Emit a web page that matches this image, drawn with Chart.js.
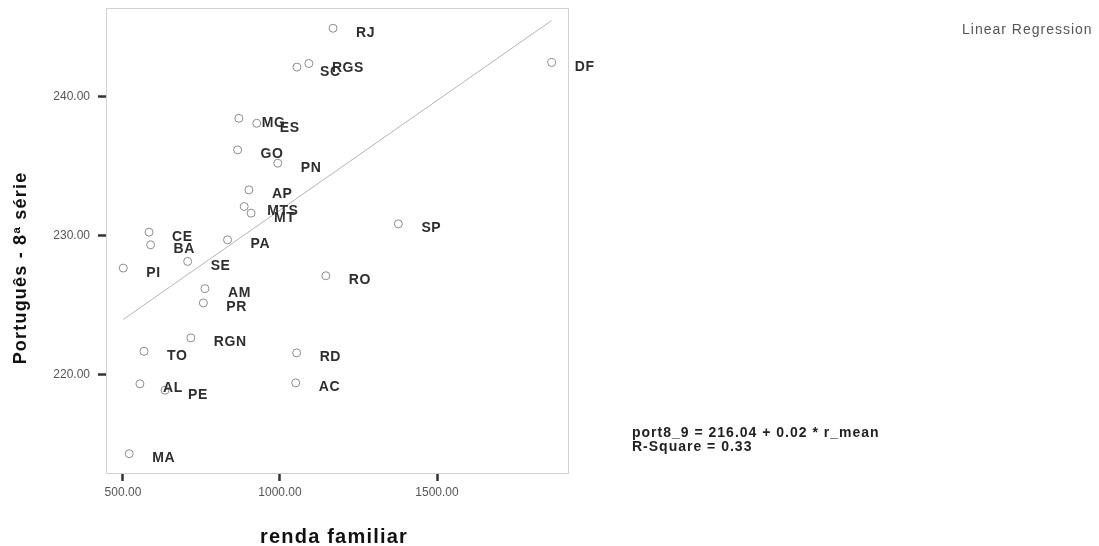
<!DOCTYPE html>
<html>
<head>
<meta charset="utf-8">
<script src="https://cdn.jsdelivr.net/npm/chart.js@4/dist/chart.umd.min.js"></script>
<style>
  html, body { margin: 0; padding: 0; background: #fff; }
  #chart { display: block; }
</style>
</head>
<body>
<canvas id="chart" width="1099" height="546" style="width:1099px;height:546px"></canvas>
<script>
// states (UF) with mean family income and 8th grade Portuguese score
const states = ['RJ', 'SC', 'RGS', 'DF', 'MG', 'ES', 'GO', 'PN', 'AP', 'MTS', 'MT', 'CE', 'BA', 'PA',
    'SE', 'PI', 'RO', 'AM', 'PR', 'RGN', 'TO', 'RD', 'AL', 'PE', 'AC', 'SP', 'MA'];
const renda = [1169, 1054, 1092, 1865, 869, 926, 865, 993, 901, 886, 908, 583, 588, 833,
    706, 501, 1146, 761, 756, 716, 567, 1053, 554, 634, 1050, 1377, 520];
const portugues = [244.94, 242.14, 242.40, 242.47, 238.45, 238.09, 236.17, 235.21, 233.29, 232.09, 231.61, 230.24, 229.33, 229.69,
    228.13, 227.65, 227.10, 226.17, 225.14, 222.62, 221.65, 221.54, 219.31, 218.85, 219.38, 230.84, 214.27];

// fitted line (ends at min / max income)
const fitX = [501, 1865];
const fitY = [223.95, 245.5];

const xTicks = [500, 1000, 1500];
const yTicks = [220, 230, 240];

const equationLines = ['port8_9 = 216.04 + 0.02 * r_mean', 'R-Square = 0.33'];

// --- helpers ---
function drawText(ctx, text, x, y, font, color, spacing, align) {
    ctx.save();
    ctx.font = font;
    ctx.fillStyle = color;
    ctx.textAlign = align || 'left';
    ctx.textBaseline = 'alphabetic';
    ctx.letterSpacing = spacing + 'px';
    ctx.fillText(text, x, y);
    ctx.restore();
}

const boxPlugin = {
    id: 'boxPlugin',
    beforeDatasetsDraw(chart) {
        const a = chart.chartArea;
        const ctx = chart.ctx;
        ctx.save();
        ctx.strokeStyle = '#d2d2d2';
        ctx.lineWidth = 1;
        ctx.strokeRect(a.left + 0.5, a.top + 0.5, a.right - a.left, a.bottom - a.top);
        ctx.restore();
    }
};

const labelPlugin = {
    id: 'labelPlugin',
    afterDatasetsDraw(chart) {
        const ctx = chart.ctx;
        const meta = chart.getDatasetMeta(0);
        meta.data.forEach(function(pt, i) {
            drawText(ctx, states[i], pt.x + 23, pt.y + 8.5, 'bold 14px Arial, "Liberation Sans", sans-serif', '#2e2e2e', 0.6);
        });
    }
};

const annotationPlugin = {
    id: 'annotationPlugin',
    afterDraw(chart) {
        const ctx = chart.ctx;
        const a = chart.chartArea;

        // axis titles
        drawText(ctx, 'renda familiar', (a.left + a.right) / 2 - 3, 543, 'bold 20px Arial, "Liberation Sans", sans-serif', '#111', 1.2, 'center');
        ctx.save();
        ctx.translate(26, 268);
        ctx.rotate(-Math.PI / 2);
        drawText(ctx, 'Português - 8ª série', 0, 0, 'bold 18px Arial, "Liberation Sans", sans-serif', '#111', 1.2, 'center');
        ctx.restore();

        // fit info
        drawText(ctx, 'Linear Regression', 962, 34, '14px Arial, "Liberation Sans", sans-serif', '#555', 1);
        equationLines.forEach(function(line, i) {
            drawText(ctx, line, 632, 437 + i * 14, 'bold 14px Arial, "Liberation Sans", sans-serif', '#222', 1);
        });
    }
};

const tickFont = { family: 'Arial, "Liberation Sans", sans-serif', size: 12 };

new Chart(document.getElementById('chart'), {
    type: 'scatter',
    data: {
        datasets: [
            {
                data: renda.map(function(v, i) { return { x: v, y: portugues[i] }; }),
                pointRadius: 4,
                pointBorderWidth: 1,
                pointBorderColor: '#8c8c8c',
                pointBackgroundColor: 'rgba(255,255,255,0)',
                showLine: false
            },
            {
                type: 'line',
                data: fitX.map(function(v, i) { return { x: v, y: fitY[i] }; }),
                borderColor: '#b4b4b4',
                borderWidth: 1,
                pointRadius: 0,
                fill: false
            }
        ]
    },
    options: {
        responsive: false,
        animation: false,
        layout: { padding: { left: 0, top: 8, right: 531, bottom: 0 } },
        plugins: {
            legend: { display: false },
            tooltip: { enabled: false }
        },
        scales: {
            x: {
                type: 'linear',
                min: 446,
                max: 1917,
                afterBuildTicks: function(scale) {
                    scale.ticks = xTicks.map(function(v) { return { value: v }; });
                },
                afterFit: function(scale) {
                    scale.height = 73;
                    scale.paddingLeft = 0;
                    scale.paddingRight = 0;
                },
                ticks: {
                    callback: function(v) { return Number(v).toFixed(2); },
                    font: tickFont,
                    color: '#555',
                    padding: 4,
                    maxRotation: 0
                },
                grid: {
                    display: true,
                    drawOnChartArea: false,
                    drawTicks: true,
                    tickLength: 8,
                    tickWidth: 2.5,
                    tickColor: '#333'
                },
                border: { display: false }
            },
            y: {
                type: 'linear',
                min: 212.88,
                max: 246.4,
                afterBuildTicks: function(scale) {
                    scale.ticks = yTicks.map(function(v) { return { value: v }; });
                },
                afterFit: function(scale) {
                    scale.width = 106;
                    scale.paddingTop = 0;
                    scale.paddingBottom = 0;
                },
                ticks: {
                    callback: function(v) { return Number(v).toFixed(2); },
                    font: tickFont,
                    color: '#555',
                    padding: 8
                },
                grid: {
                    display: true,
                    drawOnChartArea: false,
                    drawTicks: true,
                    tickLength: 8,
                    tickWidth: 2.5,
                    tickColor: '#333'
                },
                border: { display: false }
            }
        }
    },
    plugins: [boxPlugin, labelPlugin, annotationPlugin]
});
</script>
</body>
</html>
